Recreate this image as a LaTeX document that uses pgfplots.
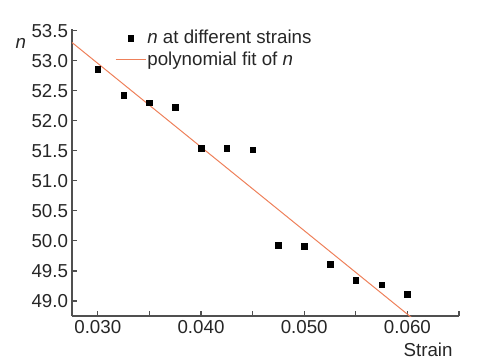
\documentclass[border=0pt]{standalone}
\usepackage{pgfplots}
\pgfplotsset{compat=1.18}
\usepackage{fontspec}
\setmainfont{Liberation Sans}
\definecolor{fitc}{RGB}{238,128,90}
\definecolor{axc}{RGB}{80,80,80}
\pgfplotsset{
  legmark/.style={legend image code/.code={\draw[##1] plot coordinates {(15bp,0bp)};}},
  legline/.style={legend image code/.code={\draw[##1] (0bp,0bp) -- (30bp,0bp);}},
}
\begin{document}
\begin{tikzpicture}
\path[use as bounding box] (-72bp,-46bp) rectangle (415bp,316bp);
\begin{axis}[
  at={(0,0)}, anchor=origin,
  scale only axis, width=387bp, height=287bp,
  xmin=0.0275, xmax=0.065, ymin=48.75, ymax=53.53,
  axis x line=bottom, axis y line=left,
  axis line style={-, axc, line width=1.3bp},
  every tick/.style={axc, line width=1.1bp},
  tick align=inside,
  major tick length=5bp, minor tick length=5bp,
  scaled x ticks=false, scaled y ticks=false,
  xtick={0.03,0.04,0.05,0.06},
  minor xtick={0.035,0.045,0.055,0.065},
  xticklabels={0.030,0.040,0.050,0.060},
  ytick={49,49.5,50,50.5,51,51.5,52,52.5,53,53.5},
  yticklabels={49.0,49.5,50.0,50.5,51.0,51.5,52.0,52.5,53.0,53.5},
  /pgf/number format/assume math mode=true,
  tick label style={font=\fontsize{18.8}{21}\selectfont, text=black!85},
  yticklabel style={xshift=-0.5bp},
  xticklabel style={yshift=-1bp},
  xlabel={Strain},
  xlabel style={at={(axis description cs:0.92,-0.118)}, anchor=center, font=\fontsize{18.8}{21}\selectfont, text=black!85},
  ylabel={\textit{n}},
  ylabel style={rotate=-90, at={(axis description cs:-0.132,0.948)}, anchor=center, font=\fontsize{18.8}{21}\selectfont, text=black!85},
  clip=true,
  legend style={at={(axis description cs:0.111,1.0)}, anchor=north west, draw=none, fill=none,
    font=\fontsize{18.8}{21}\selectfont, text=black!85, inner sep=0pt, row sep=4bp,
    nodes={inner sep=1.2bp}},
  legend cell align=left,
]
\addplot[only marks, mark=square*, mark size=2.8bp, black, legmark]
  coordinates {
  (0.0300,52.86) (0.0325,52.43) (0.0350,52.30) (0.0375,52.23)
  (0.0400,51.54) (0.0425,51.54) (0.0450,51.52) (0.0475,49.93)
  (0.0500,49.91) (0.0525,49.61) (0.0550,49.35) (0.0575,49.27)
  (0.0600,49.11)
  };
\addlegendentry{\textit{n} at different strains}
\addplot[fitc, line width=1bp, no marks, legline]
  coordinates {(0.0275,53.305) (0.0605,48.71)};
\addlegendentry{polynomial fit of \textit{n}}
\end{axis}
\end{tikzpicture}
\end{document}
